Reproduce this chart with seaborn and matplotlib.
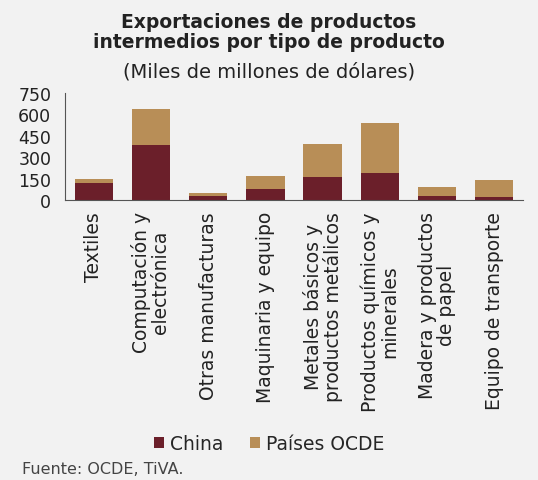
import matplotlib.pyplot as plt
import pandas as pd
import seaborn as sns

categorias = ['Textiles', 'Computación y\nelectrónica', 'Otras manufacturas',
              'Maquinaria y equipo', 'Metales básicos y\nproductos metálicos',
              'Productos químicos y\nminerales', 'Madera y productos\nde papel',
              'Equipo de transporte']
china = [118, 383, 25, 76, 164, 192, 25, 23]
ocde = [27, 252, 21, 95, 231, 346, 63, 115]

df = pd.DataFrame({'cat': categorias, 'China': china, 'OCDE': ocde})
df['total'] = df['China'] + df['OCDE']

sns.set_style('white')
plt.rcParams['font.family'] = ['DejaVu Sans']

bg = '#f2f2f2'
fig = plt.figure(figsize=(5.38, 4.81), dpi=100, facecolor=bg)
ax = fig.add_axes([0.121, 0.582, 0.851, 0.223], facecolor=bg)

sns.barplot(data=df, x='cat', y='total', color='#b88e57', width=0.67,
            saturation=1, linewidth=0, ax=ax, label='Países OCDE')
sns.barplot(data=df, x='cat', y='China', color='#6b1f2a', width=0.67,
            saturation=1, linewidth=0, ax=ax, label='China')

ax.set_ylim(0, 750)
ax.set_yticks([0, 150, 300, 450, 600, 750])
ax.set_xlabel('')
ax.set_ylabel('')
ax.tick_params(axis='y', labelsize=12.5, length=0, pad=10, colors='#222222')
ax.tick_params(axis='x', labelsize=13.5, length=0, pad=8, colors='#222222')
plt.setp(ax.get_xticklabels(), rotation=90, ha='center', va='top',
         linespacing=1.0)
ax.spines['top'].set_visible(False)
ax.spines['right'].set_visible(False)
for s in ['left', 'bottom']:
    ax.spines[s].set_color('#555555')
    ax.spines[s].set_linewidth(0.8)

fig.text(0.5, 0.932, 'Exportaciones de productos\nintermedios por tipo de producto',
         ha='center', va='center', fontsize=13.5, fontweight='bold', color='#222222',
         linespacing=1.1)
fig.text(0.5, 0.85, '(Miles de millones de dólares)', ha='center', va='center',
         fontsize=14, color='#222222')

handles, labels = ax.get_legend_handles_labels()
order = [labels.index('China'), labels.index('Países OCDE')]
fig.legend([handles[i] for i in order], [labels[i] for i in order],
           loc='center', bbox_to_anchor=(0.5, 0.075), ncol=2, frameon=False,
           fontsize=13.5, handlelength=0.55, handleheight=0.55, handletextpad=0.3,
           columnspacing=1.4)
if ax.get_legend():
    ax.get_legend().remove()

fig.text(0.04, 0.023, 'Fuente: OCDE, TiVA.', ha='left', va='center',
         fontsize=11.5, color='#444444')

fig.savefig('out.png', dpi=100, facecolor=bg)
